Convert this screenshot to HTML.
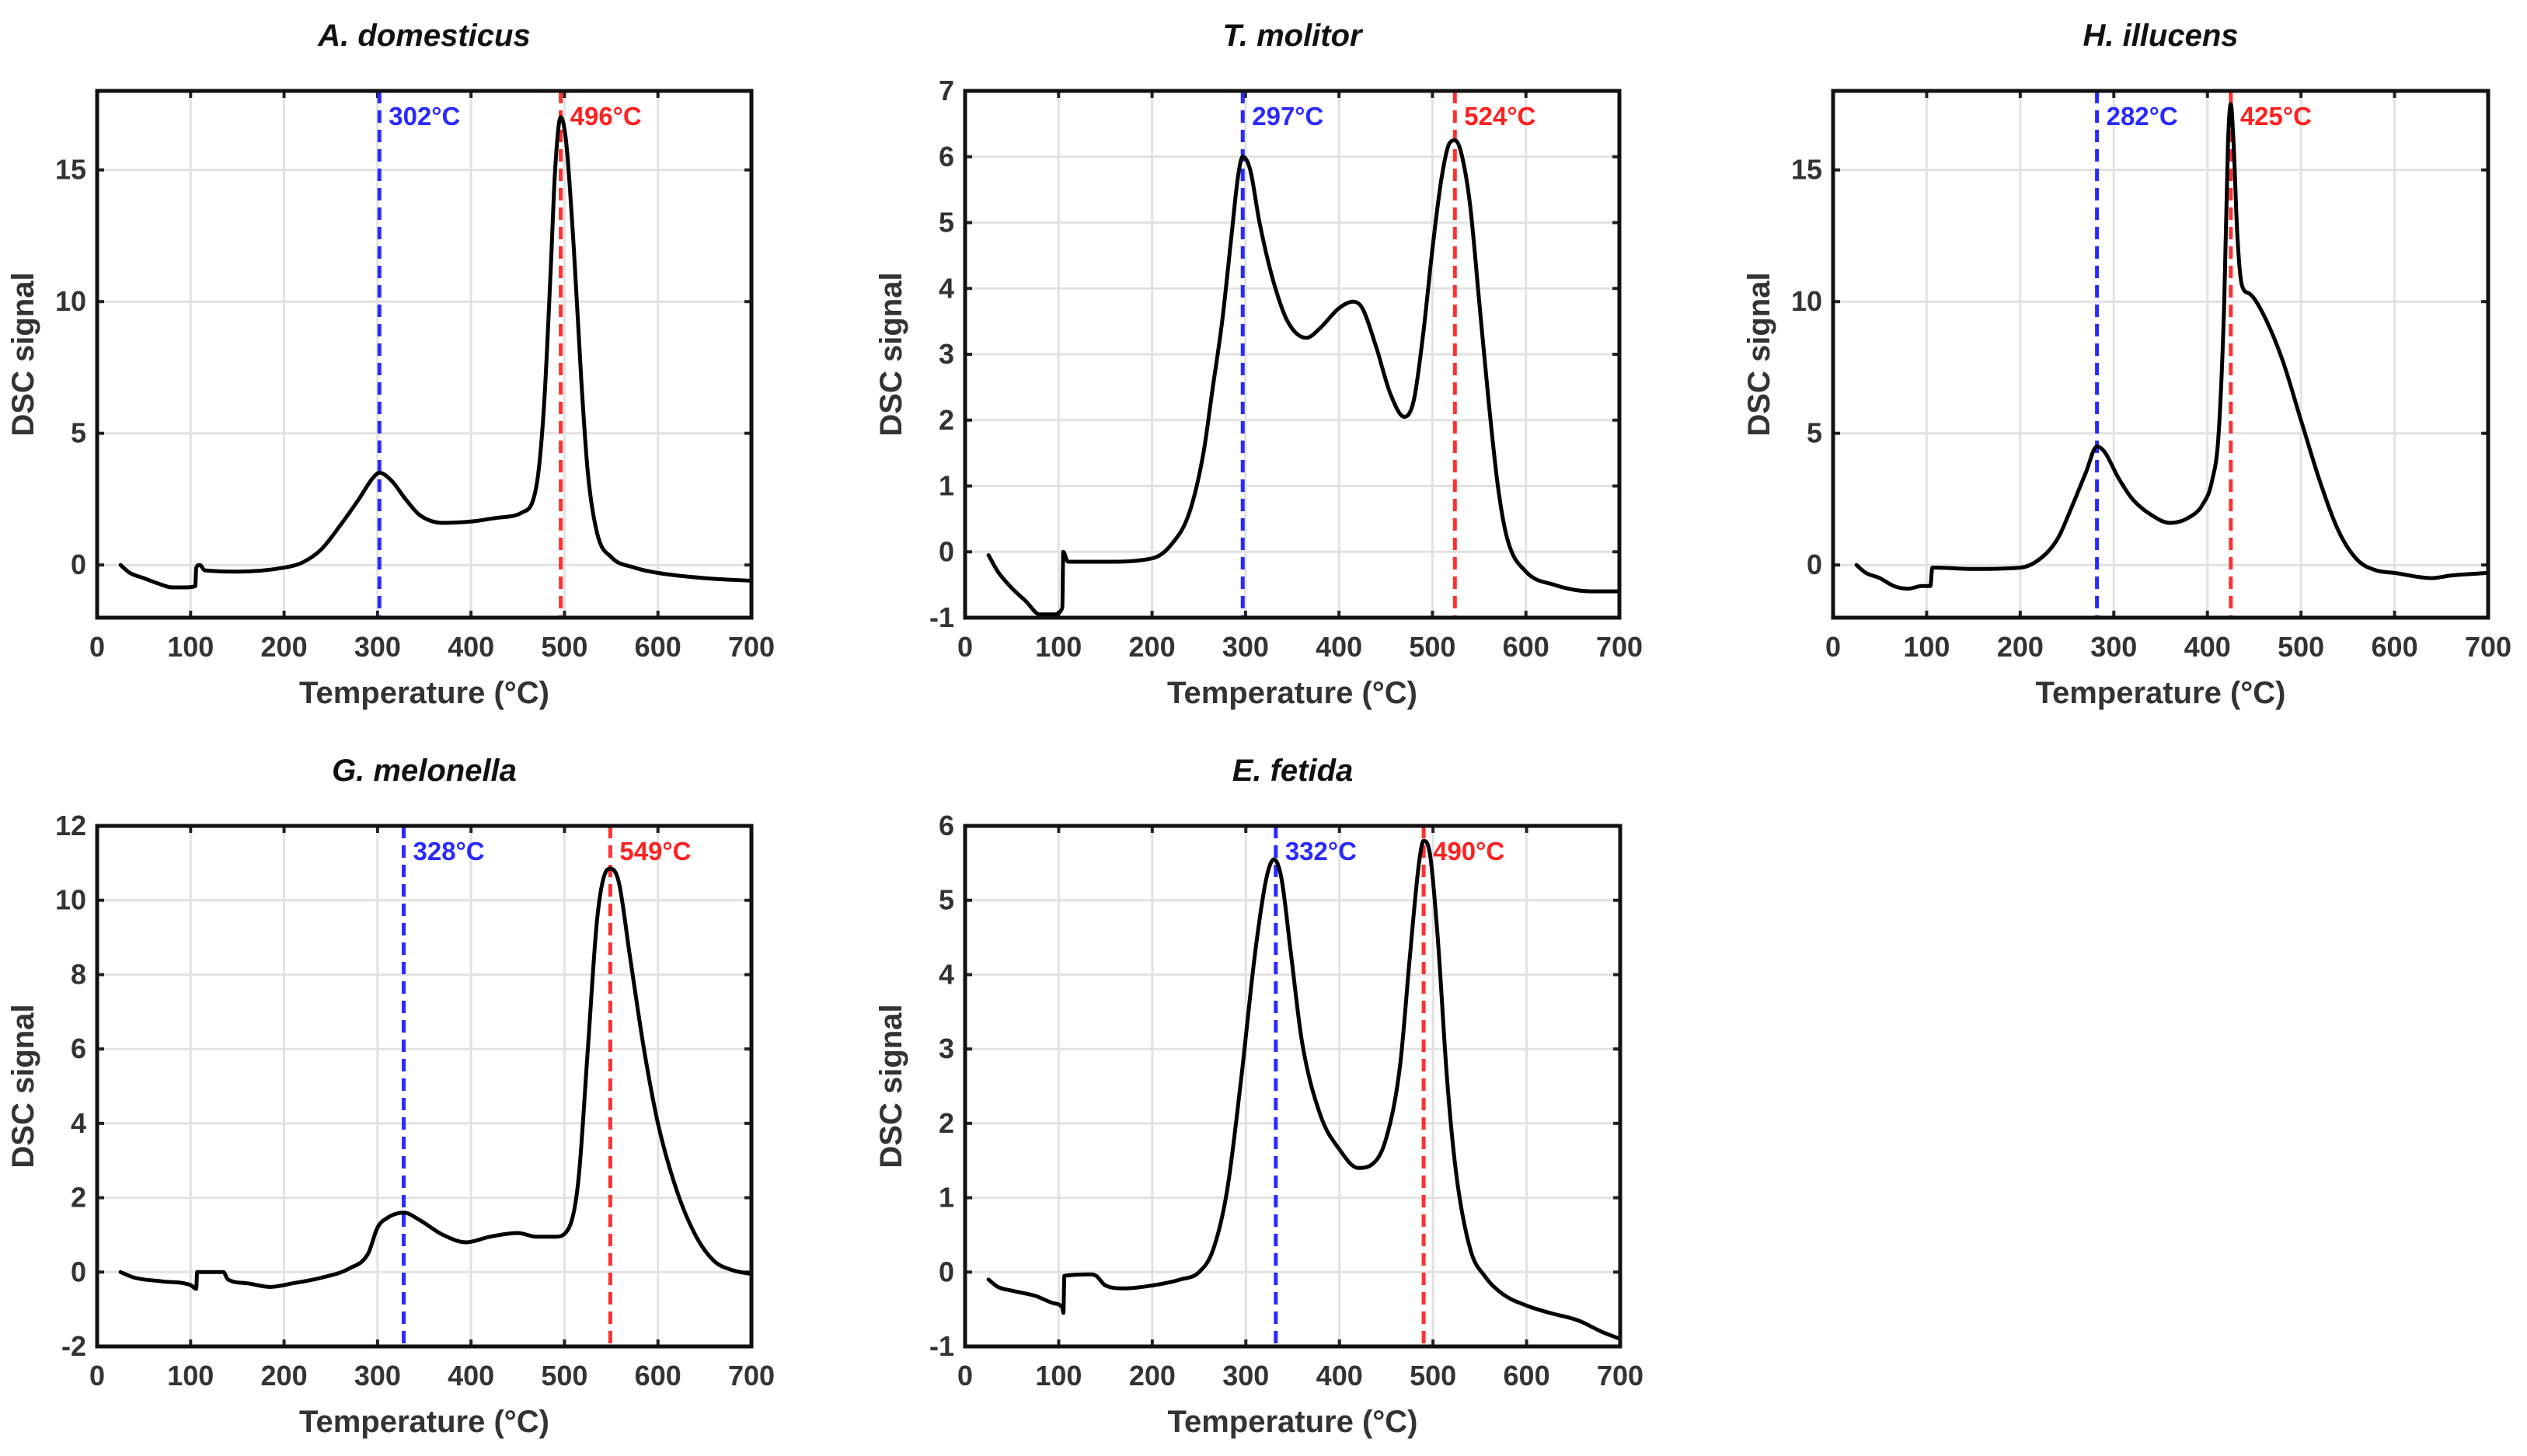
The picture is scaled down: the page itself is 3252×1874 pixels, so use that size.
<!DOCTYPE html>
<html><head><meta charset="utf-8"><style>
html,body{margin:0;padding:0;background:#fff;}
svg{display:block;font-family:"Liberation Sans",Arial,sans-serif;}
</style></head><body>
<svg id="fig" width="3252" height="1874" viewBox="0 0 3252 1874" xmlns="http://www.w3.org/2000/svg"></svg>
<script>
const titles = ["A. domesticus","T. molitor","H. illucens","G. melonella","E. fetida"];
const xTicks = [0,100,200,300,400,500,600,700];
const yLims = [[-2,18],[-1,7],[-2,18],[-2,12],[-1,6]];
const yTicks = [[0,5,10,15],[-1,0,1,2,3,4,5,6,7],[0,5,10,15],[-2,0,2,4,6,8,10,12],[-1,0,1,2,3,4,5,6]];
const peak1 = [302,297,282,328,332];
const peak2 = [496,524,425,549,490];
const tA = [25,35,50,65,80,95,105,106,110,115,150,200,220,240,260,280,295,302,315,330,345,370,400,430,455,470,478,485,490,496,502,510,518,525,535,550,575,600,650,700];
const sA = [0,-0.3,-0.5,-0.7,-0.85,-0.85,-0.8,-0.1,0,-0.2,-0.25,-0.1,0.1,0.6,1.5,2.5,3.3,3.5,3.2,2.5,1.9,1.6,1.65,1.8,2,3,6,11,15,17,16,12,7,3.5,1.2,0.3,-0.1,-0.3,-0.5,-0.6];
const tB = [25,35,50,65,80,95,104,105,110,150,200,220,240,255,265,275,285,292,297,305,315,330,345,365,380,400,415,425,440,455,470,480,490,500,510,518,524,530,540,550,560,570,580,600,630,670,700];
const sB = [-0.05,-0.3,-0.55,-0.75,-0.95,-0.95,-0.85,0,-0.15,-0.15,-0.1,0.1,0.6,1.5,2.5,3.5,4.8,5.7,6,5.8,5,4.1,3.5,3.25,3.4,3.7,3.8,3.7,3.1,2.4,2.05,2.3,3.3,4.6,5.7,6.2,6.25,6.1,5.3,3.8,2.3,1,0.2,-0.3,-0.5,-0.6,-0.6];
const tC = [25,35,50,65,80,95,104,106,110,150,200,220,240,255,270,282,290,305,320,340,360,380,395,405,412,418,422,425,428,432,437,445,460,480,500,520,540,560,580,600,640,660,700];
const sC = [0,-0.3,-0.5,-0.8,-0.9,-0.8,-0.8,-0.1,-0.1,-0.15,-0.1,0.2,1,2.2,3.5,4.5,4.3,3.3,2.5,1.9,1.6,1.8,2.3,3.2,5,10,16,17.5,16,12.5,10.6,10.3,9.5,7.8,5.5,3.2,1.3,0.2,-0.2,-0.3,-0.5,-0.4,-0.3];
const tD = [25,40,70,100,106,107,135,140,160,185,210,240,270,290,300,310,328,345,370,395,420,450,470,490,505,515,525,535,545,549,558,570,585,600,620,640,660,680,700];
const sD = [0,-0.15,-0.25,-0.35,-0.45,0,0,-0.2,-0.3,-0.4,-0.3,-0.15,0.1,0.5,1.2,1.45,1.6,1.4,1,0.8,0.95,1.05,0.95,0.95,1.2,2.5,6,9.5,10.8,10.85,10.5,8.5,6,4,2.2,1,0.3,0.05,-0.05];
const tE = [25,35,50,75,95,104,105,106,135,140,150,170,200,230,250,265,280,295,310,322,330,338,348,360,380,400,420,435,450,465,475,485,490,497,505,515,525,540,555,575,600,625,655,680,700];
const sE = [-0.1,-0.2,-0.25,-0.32,-0.42,-0.48,-0.55,-0.05,-0.03,-0.05,-0.18,-0.22,-0.18,-0.1,0,0.3,1.1,2.6,4.3,5.3,5.55,5.3,4.3,3.1,2.1,1.65,1.4,1.45,1.8,2.8,4.2,5.5,5.8,5.6,4.5,2.6,1.3,0.3,-0.05,-0.3,-0.45,-0.55,-0.65,-0.8,-0.9];
const temps = [tA,tB,tC,tD,tE];
const sigs = [sA,sB,sC,sD,sE];

const NS="http://www.w3.org/2000/svg";
const svg=document.getElementById('fig');
const boxes=[[125,117,967,795],[1242,117,2084,795],[2359,117,3202,795],[125,1063,967,1733],[1242,1063,2085,1733]];
function mk(tag,attrs,parent){const e=document.createElementNS(NS,tag);for(const k in attrs)e.setAttribute(k,attrs[k]);(parent||svg).appendChild(e);return e;}
function monoPath(X,Y){
  const n=X.length,d=[],m=[];
  for(let i=0;i<n-1;i++)d.push((Y[i+1]-Y[i])/Math.max(X[i+1]-X[i],1e-6));
  m[0]=d[0];m[n-1]=d[n-2];
  for(let i=1;i<n-1;i++){m[i]=(d[i-1]*d[i]<=0)?0:(d[i-1]+d[i])/2;}
  for(let i=0;i<n-1;i++){
    if(d[i]===0){m[i]=0;m[i+1]=0;continue;}
    const a=m[i]/d[i],b=m[i+1]/d[i],s=a*a+b*b;
    if(s>9){const t=3/Math.sqrt(s);m[i]=t*a*d[i];m[i+1]=t*b*d[i];}
  }
  let p='M'+X[0].toFixed(1)+','+Y[0].toFixed(1);
  for(let i=0;i<n-1;i++){
    const h=(X[i+1]-X[i])/3;
    p+=' C'+(X[i]+h).toFixed(1)+','+(Y[i]+m[i]*h).toFixed(1)+' '+(X[i+1]-h).toFixed(1)+','+(Y[i+1]-m[i+1]*h).toFixed(1)+' '+X[i+1].toFixed(1)+','+Y[i+1].toFixed(1);
  }
  return p;
}
for(let p=0;p<5;p++){
  const [L,T,R,B]=boxes[p];
  const g=mk('g',{});
  
  
  const [y0,y1]=yLims[p];
  const xs=v=>L+(v-0)/700*(R-L);
  const ys=v=>B-(v-y0)/(y1-y0)*(B-T);
  for(const t of xTicks){
    const l=mk('line',{x1:xs(t),x2:xs(t),y1:T,y2:B,stroke:'#e2e2e2','stroke-width':3},g);
    
    
    mk('line',{x1:xs(t),x2:xs(t),y1:B,y2:B-9,stroke:'#222','stroke-width':4},g);
    mk('line',{x1:xs(t),x2:xs(t),y1:T,y2:T+9,stroke:'#222','stroke-width':4},g);
    const tx=mk('text',{x:xs(t),y:B+50,'text-anchor':'middle','font-size':36,'font-weight':'bold',fill:'#333'},g);
    tx.textContent=t;
    
    
  }
  for(const t of yTicks[p]){
    const l=mk('line',{x1:L,x2:R,y1:ys(t),y2:ys(t),stroke:'#e2e2e2','stroke-width':3},g);
    
    
    mk('line',{x1:L,x2:L+9,y1:ys(t),y2:ys(t),stroke:'#222','stroke-width':4},g);
    mk('line',{x1:R,x2:R-9,y1:ys(t),y2:ys(t),stroke:'#222','stroke-width':4},g);
    const tx=mk('text',{x:L-14,y:ys(t)+12,'text-anchor':'end','font-size':36,'font-weight':'bold',fill:'#333'},g);
    tx.textContent=t;
    
    
  }
  const v1=mk('line',{x1:xs(peak1[p]),x2:xs(peak1[p]),y1:T,y2:B,stroke:'#2a2aff','stroke-width':5,'stroke-dasharray':'16 9'},g);
  
  
  const v2=mk('line',{x1:xs(peak2[p]),x2:xs(peak2[p]),y1:T,y2:B,stroke:'#ff3030','stroke-width':5,'stroke-dasharray':'16 9'},g);
  
  
  const l1=mk('text',{x:xs(peak1[p])+12,y:T+44,'font-size':33,'font-weight':'bold',fill:'#2a2aff'},g);
  l1.textContent=peak1[p]+'°C';
  
  
  const l2=mk('text',{x:xs(peak2[p])+12,y:T+44,'font-size':33,'font-weight':'bold',fill:'#ff2020'},g);
  l2.textContent=peak2[p]+'°C';
  
  
  const PX=temps[p].map(xs), PY=sigs[p].map(ys);
  const c=mk('path',{d:monoPath(PX,PY),fill:'none',stroke:'#000','stroke-width':5,'stroke-linejoin':'round','stroke-linecap':'round'},g);
  
  
  const f=mk('rect',{x:L,y:T,width:R-L,height:B-T,fill:'none',stroke:'#111','stroke-width':5},g);
  
  
  const ti=mk('text',{x:(L+R)/2,y:T-58,'text-anchor':'middle','font-size':40,'font-weight':'bold','font-style':'italic',fill:'#111'},g);
  ti.textContent=titles[p];
  
  
  const xl=mk('text',{x:(L+R)/2,y:B+110,'text-anchor':'middle','font-size':40,'font-weight':'bold',fill:'#333'},g);
  xl.textContent='Temperature (°C)';
  
  
  const yx=L-82, yy=(T+B)/2;
  const yl=mk('text',{x:yx,y:yy,'text-anchor':'middle','font-size':40,'font-weight':'bold',fill:'#333',transform:'rotate(-90 '+yx+' '+yy+')'},g);
  yl.textContent='DSC signal';
  
  
}
</script>
</body></html>
